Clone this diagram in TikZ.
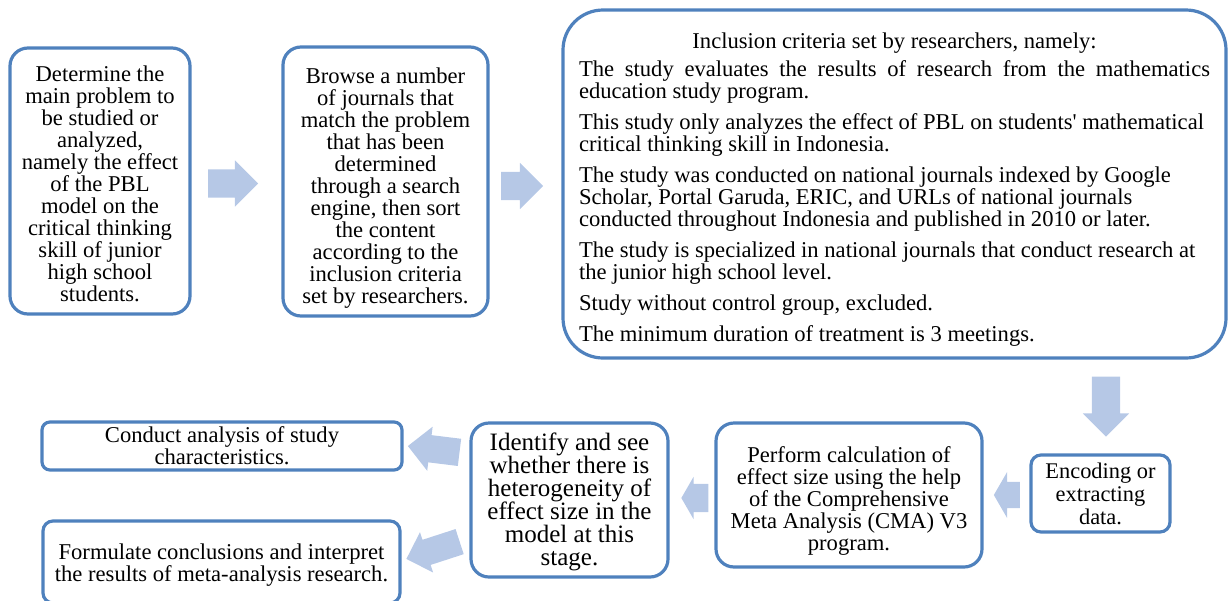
\documentclass[tikz,border=0pt]{standalone}
\usepackage{fontspec}
\setmainfont{Liberation Serif}[Ligatures=TeXOff]
\usetikzlibrary{positioning,shapes.arrows,calc}

\definecolor{boxblue}{RGB}{79,129,189}
\definecolor{arrowblue}{RGB}{182,200,230}

% pushes a box's text block down by about half of #1
\newcommand{\lowerby}[1]{\rule{0pt}{\dimexpr 20pt+#1\relax}}

\tikzset{
  stage/.style={draw=boxblue, line width=3.2pt, rounded corners=18pt, align=center,
    inner sep=4pt, font=\fontsize{22.6}{22}\selectfont},
  fatarrow/.style={single arrow, fill=arrowblue, draw=none, inner xsep=0pt, inner ysep=14pt,
    minimum width=46pt, single arrow head extend=9pt, anchor=tip},
}

\begin{document}
\begin{tikzpicture}[x=1pt, y=-1pt]
    \useasboundingbox (0,0) rectangle (1228,600);

    % Top row
    \node[stage, minimum width=180pt, minimum height=266pt] (prob) at (100,181)
        {\lowerby{2pt}Determine the\\main problem to\\be studied or\\analyzed,\\namely the effect\\of the PBL\\model on the\\critical thinking\\skill of junior\\high school\\students.};
    \node[stage, minimum width=205pt, minimum height=269pt] (browse) at (385.5,181.5)
        {\lowerby{9pt}Browse a number\\of journals that\\match the problem\\that has been\\determined\\through a search\\engine, then sort\\the content\\according to the\\inclusion criteria\\set by researchers.};
    \node[stage, rounded corners=40pt, align=left, minimum width=663pt, minimum height=348pt] (crit) at (894.5,184)
        {\lowerby{7pt}\makebox[631pt]{Inclusion criteria set by researchers, namely:}\\[6pt]
         \makebox[631pt][s]{The study evaluates the results of research from the mathematics}\\
         education study program.\\[9pt]
         This study only analyzes the effect of PBL on students' mathematical\\
         critical thinking skill in Indonesia.\\[9pt]
         The study was conducted on national journals indexed by Google\\
         Scholar, Portal Garuda, ERIC, and URLs of national journals\\
         conducted throughout Indonesia and published in 2010 or later.\\[9pt]
         The study is specialized in national journals that conduct research at\\
         the junior high school level.\\[9pt]
         Study without control group, excluded.\\[9pt]
         The minimum duration of treatment is 3 meetings.};

    % Bottom row (right to left)
    \node[stage, rounded corners=10pt, minimum width=139pt, minimum height=77pt,
          font=\fontsize{22.4}{23}\selectfont] (encode) at (1100.5,493.5)
        {Encoding or\\extracting\\data.};
    \node[stage, minimum width=266pt, minimum height=144pt] (perform) at (849,495)
        {\lowerby{7pt}Perform calculation of\\effect size using the help\\of the Comprehensive\\Meta Analysis (CMA) V3\\program.};
    \node[stage, minimum width=197pt, minimum height=154pt,
          font=\fontsize{25}{23}\selectfont] (ident) at (569.5,500)
        {\lowerby{2pt}Identify and see\\whether there is\\heterogeneity of\\effect size in the\\model at this\\stage.};
    \node[stage, rounded corners=8pt, minimum width=360pt, minimum height=48pt] (conduct) at (222,446)
        {Conduct analysis of study\\characteristics.};
    \node[stage, rounded corners=10pt, minimum width=357pt, minimum height=82pt] (formul) at (221.5,562)
        {\lowerby{1.5pt}Formulate conclusions and interpret\\the results of meta-analysis research.};

    % Block arrows between the stages, placed by their tips
    \node[fatarrow, minimum height=50pt] (a1) at ($(browse.west)+(-23,2)$) {};
    \node[fatarrow, minimum height=42pt] (a2) at ($(crit.west)+(-18,2)$) {};
    \node[fatarrow, minimum height=60pt, rotate=-90] (a3) at ($(encode.north)+(5.5,-16.5)$) {};
    \node[fatarrow, minimum height=26pt, rotate=180, single arrow tip angle=120,
          inner ysep=13pt, single arrow head extend=10pt] (a4) at ($(perform.east)+(10,0)$) {};
    \node[fatarrow, minimum height=27pt, rotate=180, single arrow tip angle=120,
          minimum width=42pt, single arrow head extend=7pt] (a5) at ($(ident.east)+(11.5,-2)$) {};
    \node[fatarrow, minimum height=52pt, rotate=173, minimum width=44pt, inner ysep=13.5pt,
          single arrow head extend=8.5pt] (a6) at ($(conduct.east)+(4,0)$) {};
    \node[fatarrow, minimum height=56pt, rotate=198, minimum width=42pt, inner ysep=13pt,
          single arrow head extend=8pt] (a7) at ($(formul.east)+(4.5,-3)$) {};
\end{tikzpicture}
\end{document}
